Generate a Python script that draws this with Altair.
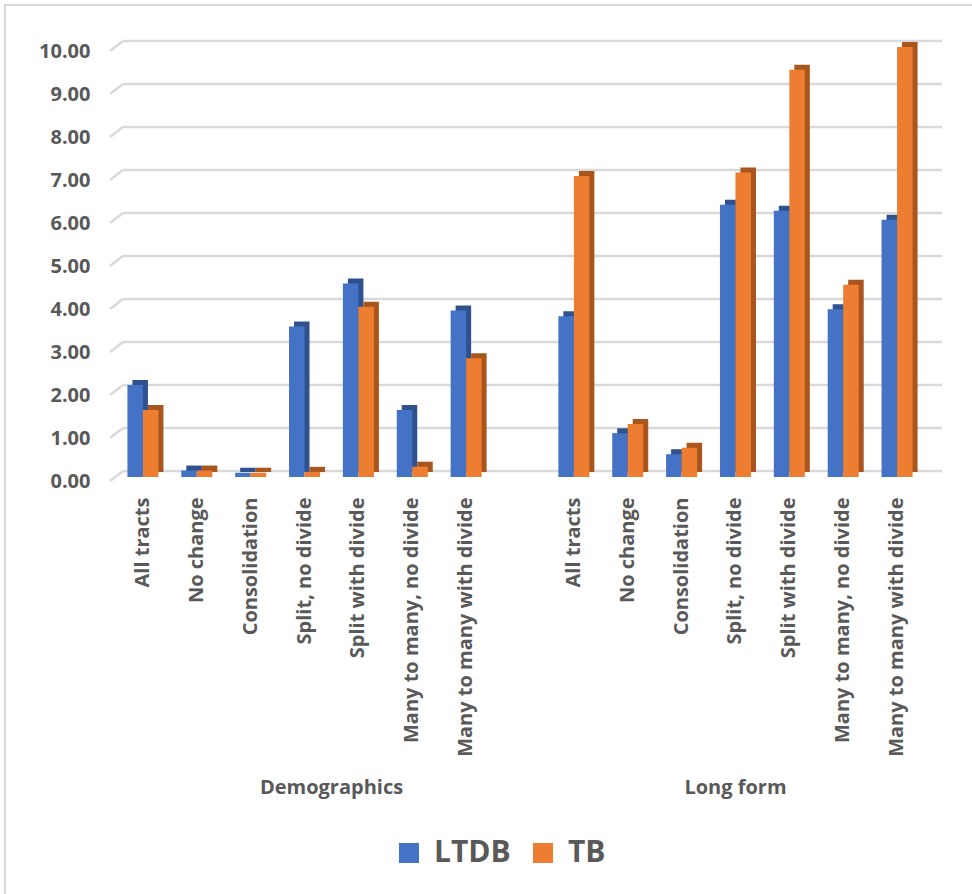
import altair as alt
import pandas as pd

# Tract-change categories, shown once for each group
categories = [
    "All tracts",
    "No change",
    "Consolidation",
    "Split, no divide",
    "Split with divide",
    "Many to many, no divide",
    "Many to many with divide",
]
groups = ["Demographics", "Long form"]
group_prefix = {"Demographics": "D", "Long form": "L"}

ltdb_demographics = [2.14, 0.15, 0.10, 3.50, 4.50, 1.56, 3.87]
tb_demographics = [1.56, 0.15, 0.10, 0.12, 3.96, 0.24, 2.76]
ltdb_long_form = [3.74, 1.02, 0.53, 6.33, 6.19, 3.90, 5.98]
tb_long_form = [7.00, 1.23, 0.68, 7.08, 9.47, 4.47, 10.00]

series_names = ["LTDB", "TB"]
series_colors = ["#4472C4", "#ED7D31"]
side_colors = ["#2F528F", "#A9561E"]
y_ticks = [0, 1, 2, 3, 4, 5, 6, 7, 8, 9, 10]

# x domain: each group's categories, with an empty slot after Demographics
domain = [f"D|{c}" for c in categories] + ["D|"] + [f"L|{c}" for c in categories]

rows = []
for grp, ltdb, tb in [
    ("Demographics", ltdb_demographics, tb_demographics),
    ("Long form", ltdb_long_form, tb_long_form),
]:
    for cat, a, b in zip(categories, ltdb, tb):
        key = f"{group_prefix[grp]}|{cat}"
        rows.append({"key": key, "group": grp, "series": "LTDB", "value": a})
        rows.append({"key": key, "group": grp, "series": "TB", "value": b})
df = pd.DataFrame(rows)

grid_df = pd.DataFrame({"value": y_ticks})

W, H = 808, 430
FONT = "Open Sans"
GRAY = "#595959"
GRID = "#D9D9D9"

x_scale = alt.Scale(domain=domain, paddingInner=0, paddingOuter=0)
x_axis = alt.Axis(
    title=None,
    labelAngle=-90,
    labelExpr="split(datum.label, '|')[1]",
    labelFont=FONT,
    labelFontWeight="bold",
    labelFontSize=20,
    labelColor=GRAY,
    labelPadding=20,
    labelLimit=400,
    ticks=False,
    domain=False,
    grid=False,
)
y_scale = alt.Scale(domain=[0, 10], nice=False)
y_axis = alt.Axis(
    title=None,
    values=y_ticks,
    format=".2f",
    labelFont=FONT,
    labelFontWeight="bold",
    labelFontSize=20,
    labelColor=GRAY,
    labelPadding=26,
    labelOffset=4,
    ticks=False,
    domain=False,
    grid=False,
)

x_enc = alt.X("key:N", scale=x_scale, axis=x_axis)
y_enc = alt.Y("value:Q", scale=y_scale, axis=y_axis)

base = alt.Chart(df)
bar_w = alt.RelativeBandSize(0.288)
half = 7.75
depth = 5

# back-wall gridlines and the short slanted links to the value labels
grid = alt.Chart(grid_df).mark_rule(color=GRID, strokeWidth=2.5, yOffset=-6).encode(
    y=y_enc,
    x=alt.value(7),
    x2=alt.value(826),
)
links = alt.Chart(grid_df).mark_rule(color=GRID, strokeWidth=2.5, yOffset=4, y2Offset=-6).encode(
    y=y_enc,
    y2="value:Q",
    x=alt.value(-6),
    x2=alt.value(7),
)

layers = [grid, links]

# darker depth faces sit behind the front faces
for name, side, off in zip(series_names, side_colors, [-half, half]):
    layers.append(
        base.transform_filter(alt.datum.series == name)
        .mark_bar(width=bar_w, xOffset=off + depth, yOffset=-depth, y2Offset=-depth, color=side)
        .encode(x=x_enc, y=y_enc)
    )

for name, off in zip(series_names, [-half, half]):
    layers.append(
        base.transform_filter(alt.datum.series == name)
        .mark_bar(width=bar_w, xOffset=off)
        .encode(
            x=x_enc,
            y=y_enc,
            color=alt.Color(
                "series:N",
                scale=alt.Scale(domain=series_names, range=series_colors),
                legend=alt.Legend(
                    title=None,
                    orient="none",
                    direction="horizontal",
                    legendX=278,
                    legendY=791,
                    symbolType="square",
                    symbolSize=400,
                    symbolStrokeWidth=0,
                    labelFont=FONT,
                    labelFontWeight="bold",
                    labelFontSize=30,
                    labelColor=GRAY,
                    labelOffset=10,
                    columnPadding=17,
                    padding=0,
                ),
            ),
        )
    )

# group captions under the category labels
group_df = pd.DataFrame({"group": groups, "key": ["D|Split, no divide", "L|Split, no divide"]})
for grp, dx in zip(groups, [27, 0]):
    layers.append(
        alt.Chart(group_df)
        .transform_filter(alt.datum.group == grp)
        .mark_text(font=FONT, fontWeight="bold", fontSize=20, color=GRAY, dx=dx, baseline="middle")
        .encode(x=x_enc, y=alt.value(741), text="group:N")
    )

# chart frame (top and left edges)
frame_top = alt.Chart(grid_df).mark_rule(color=GRID, strokeWidth=2).encode(
    x=alt.value(-111), x2=alt.value(860), y=alt.value(-42)
)
frame_left = alt.Chart(grid_df).mark_rule(color=GRID, strokeWidth=2).encode(
    x=alt.value(-111), y=alt.value(-43), y2=alt.value(850)
)
layers += [frame_top, frame_left]

chart = (
    alt.layer(*layers)
    .properties(
        width=W,
        height=H,
        padding={"left": 116, "top": 47, "right": 48, "bottom": 417},
        autosize=alt.AutoSizeParams(type="none"),
        background="white",
    )
    .configure_view(stroke=None)
)

chart.save("out.html", embed_options={"renderer": "svg", "actions": False})
